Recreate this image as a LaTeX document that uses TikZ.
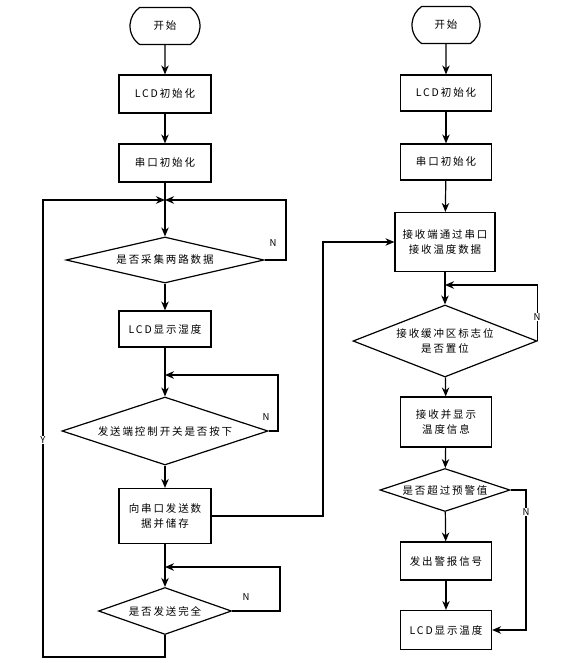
\documentclass[tikz,border=0pt]{standalone}
\usepackage{fontspec}
\setmainfont{Noto Sans CJK SC}[LetterSpace=18]
\usetikzlibrary{arrows.meta,shapes.geometric,shapes.misc}
\begin{document}
\begin{tikzpicture}[x=1pt,y=-1pt,line width=1.2pt,
  every node/.style={font=\fontsize{10.5}{15}\selectfont},
  arr/.style={-{Stealth[length=9pt,width=7.5pt]}},
  term/.style={draw,rounded rectangle,rounded rectangle arc length=110,minimum width=#1,minimum height=37pt,inner sep=0pt},
  proc/.style={draw,rectangle,minimum width=92pt,inner sep=0pt,align=center},
  dec/.style n args={3}{draw,diamond,inner sep=-1pt,align=center,minimum width=#1pt,minimum height=#2pt,aspect=#3},
  lab/.style={fill=white,inner sep=1pt,font=\fontsize{9.5}{11}\selectfont}
]
\useasboundingbox (0,0) rectangle (588,663);
% ---------- left column ----------
\node[term=70pt] (s1) at (165,26) {开始};
\node[proc,minimum height=38pt] (l1) at (165,94) {LCD初始化};
\node[proc,minimum height=38pt] (l2) at (165,163) {串口初始化};
\coordinate (j1) at (165,200);
\node[dec={198}{46}{4.3}] (d1) at (165,260) {是否采集两路数据};
\node[proc,minimum height=36pt] (l3) at (165,329) {LCD显示湿度};
\coordinate (j2) at (165,375);
\node[dec={206}{68}{3.03}] (d2) at (165,431) {发送端控制开关是否按下};
\node[proc,minimum height=55pt] (l4) at (165,516) {向串口发送数\\据并储存};
\coordinate (j3) at (165,567);
\node[dec={133}{47}{2.83}] (d3) at (165,611) {是否发送完全};
\coordinate (c1) at (286,200);
\coordinate (c2) at (278,375);
\coordinate (c3) at (280,567);
\coordinate (c4) at (165,657);
\coordinate (c5) at (43,657);
\coordinate (c6) at (43,200);
\coordinate (c7) at (323,516);

\draw[arr] (s1) -- (l1);
\draw[arr] (l1) -- (l2);
\draw[arr] (l2) -- (d1);
\draw[arr] (d1.east) -| (c1) -- (j1);
\node[lab] (n1) at (273,243) {N};
\draw[arr] (d1) -- (l3);
\draw[arr] (l3) -- (d2);
\draw[arr] (d2.east) -| (c2) -- (j2);
\node[lab] (n2) at (266,417) {N};
\draw[arr] (d2) -- (l4);
\draw[arr] (l4) -- (d3);
\draw[arr] (d3.east) -| (c3) -- (j3);
\node[lab] (n3) at (246,597) {N};
\draw[arr] (d3.south) -- (c4) -- (c5) -- (c6) -- (j1);
\node[lab] (y1) at (43,440) {Y};
% ---------- right column ----------
\node[term=68pt] (s2) at (446,25) {开始};
\node[proc,minimum width=91pt,minimum height=36pt] (r1) at (446,93) {LCD初始化};
\node[proc,minimum width=91pt,minimum height=36pt] (r2) at (446,162) {串口初始化};
\node[proc,minimum width=100pt,minimum height=59pt] (r3) at (445,242) {接收端通过串口\\接收温度数据};
\coordinate (j4) at (445,285);
\node[dec={184}{72}{2.56}] (rd1) at (445,341) {接收缓冲区标志位\\是否置位};
\node[proc,minimum width=91pt,minimum height=50pt] (r4) at (446,422) {接收并显示\\温度信息};
\node[dec={130}{43}{3.02}] (rd2) at (445,490) {是否超过预警值};
\node[proc,minimum width=91pt,minimum height=38pt] (r5) at (446,561) {发出警报信号};
\node[proc,minimum width=91pt,minimum height=39pt] (r6) at (446,630) {LCD显示温度};
\coordinate (c8) at (526,490);

\draw[arr] (l4.east) -- (c7) |- (r3.west);
\draw[arr] (s2) -- (r1);
\draw[arr] (r1) -- (r2);
\draw[arr] (r2) -- (r3);
\draw[arr] (r3) -- (rd1);
\draw[arr] (rd1.east) |- (j4);
\node[lab] (n4) at (537,317) {N};
\draw[arr] (rd1) -- (r4);
\draw[arr] (r4) -- (rd2);
\draw[arr] (rd2.east) -- (c8) |- (r6.east);
\node[lab] (n5) at (526,512) {N};
\draw[arr] (rd2) -- (r5);
\draw[arr] (r5) -- (r6);
\end{tikzpicture}
\end{document}
